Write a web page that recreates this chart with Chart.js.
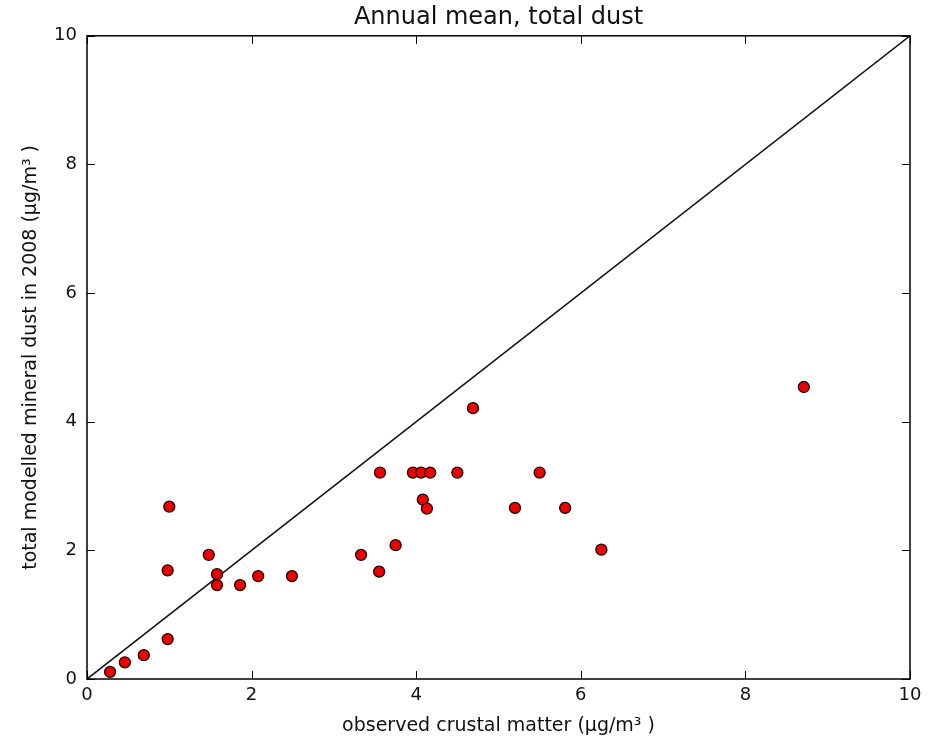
<!DOCTYPE html>
<html>
<head>
<meta charset="utf-8">
<script src="https://cdn.jsdelivr.net/npm/chart.js@4"></script>
<style>
  body { margin: 0; background: #fff; }
  #wrap { width: 934px; height: 741px; }
</style>
</head>
<body>
<div id="wrap"><canvas id="myChart" width="934" height="741"></canvas></div>
<script>
// observed crustal matter (x) vs modelled dust (y)
const observed = [0.28, 0.46, 0.69, 0.98, 0.98, 1.00, 1.48, 1.58, 1.58, 1.86, 2.08, 2.49,
  3.33, 3.55, 3.56, 3.75, 3.96, 4.06, 4.17, 4.08, 4.13, 4.50, 4.69, 5.20, 5.50, 5.81, 6.25, 8.71];
const modelled = [0.11, 0.26, 0.37, 0.62, 1.69, 2.68, 1.93, 1.63, 1.46, 1.46, 1.60, 1.60,
  1.93, 1.67, 3.21, 2.08, 3.21, 3.21, 3.21, 2.79, 2.65, 3.21, 4.21, 2.66, 3.21, 2.66, 2.01, 4.54];
const oneToOne = [0, 10];
const tickValues = [0, 2, 4, 6, 8, 10];

const points = observed.map((v, i) => ({ x: v, y: modelled[i] }));
const line = oneToOne.map(v => ({ x: v, y: v }));

const FONT = "'DejaVu Sans', sans-serif";

// matplotlib style box with inward ticks on all four sides
const boxTicks = {
  id: 'boxTicks',
  afterDraw(chart) {
    const { ctx, chartArea: a, scales } = chart;
    const len = 8;
    ctx.save();
    ctx.strokeStyle = '#000';
    ctx.lineWidth = 1;
    tickValues.forEach(t => {
      const px = Math.round(scales.x.getPixelForValue(t)) + 0.5;
      const py = Math.round(scales.y.getPixelForValue(t)) + 0.5;
      ctx.beginPath();
      ctx.moveTo(px, a.bottom); ctx.lineTo(px, a.bottom - len);
      ctx.moveTo(px, a.top); ctx.lineTo(px, a.top + len);
      ctx.moveTo(a.left, py); ctx.lineTo(a.left + len, py);
      ctx.moveTo(a.right, py); ctx.lineTo(a.right - len, py);
      ctx.stroke();
    });
    ctx.lineWidth = 1.5;
    ctx.strokeRect(a.left, a.top, a.right - a.left, a.bottom - a.top);
    ctx.restore();
  }
};

const config = {
  type: 'scatter',
  data: {
    datasets: [
      {
        label: '1:1',
        data: line,
        showLine: true,
        borderColor: '#111',
        borderWidth: 1.6,
        pointRadius: 0,
        order: 2
      },
      {
        label: 'stations',
        data: points,
        backgroundColor: '#ee0000',
        borderColor: '#1a0000',
        borderWidth: 1.3,
        pointRadius: 5.5,
        order: 1
      }
    ]
  },
  plugins: [boxTicks],
  options: {
    responsive: false,
    animation: false,
    layout: { padding: { left: 0, right: 24, top: 0, bottom: 0 } },
    plugins: {
      legend: { display: false },
      tooltip: { enabled: false },
      title: {
        display: true,
        text: 'Annual mean, total dust',
        color: '#111',
        fullSize: false,
        font: { family: FONT, size: 24, weight: 'normal' },
        padding: { top: 3, bottom: 4 }
      }
    },
    scales: {
      x: {
        type: 'linear',
        min: 0, max: 10,
        afterBuildTicks: s => { s.ticks = tickValues.map(v => ({ value: v })); },
        afterFit: s => { s.height = 62; },
        grid: { display: false, drawTicks: false },
        border: { display: false },
        ticks: { color: '#111', padding: 6, font: { family: FONT, size: 18 } },
        title: {
          display: true,
          text: 'observed crustal matter (μg/m³ )',
          color: '#111',
          font: { family: FONT, size: 19 },
          padding: { top: 3 }
        }
      },
      y: {
        type: 'linear',
        min: 0, max: 10,
        afterBuildTicks: s => { s.ticks = tickValues.map(v => ({ value: v })); },
        afterFit: s => { s.width = 87; },
        grid: { display: false, drawTicks: false },
        border: { display: false },
        ticks: { color: '#111', padding: 10, font: { family: FONT, size: 18 } },
        title: {
          display: true,
          text: 'total modelled mineral dust in 2008 (μg/m³ )',
          color: '#111',
          font: { family: FONT, size: 19 },
          padding: { top: 20, bottom: 0 }
        }
      }
    }
  }
};

const myChart = new Chart(document.getElementById('myChart'), config);
</script>
</body>
</html>
